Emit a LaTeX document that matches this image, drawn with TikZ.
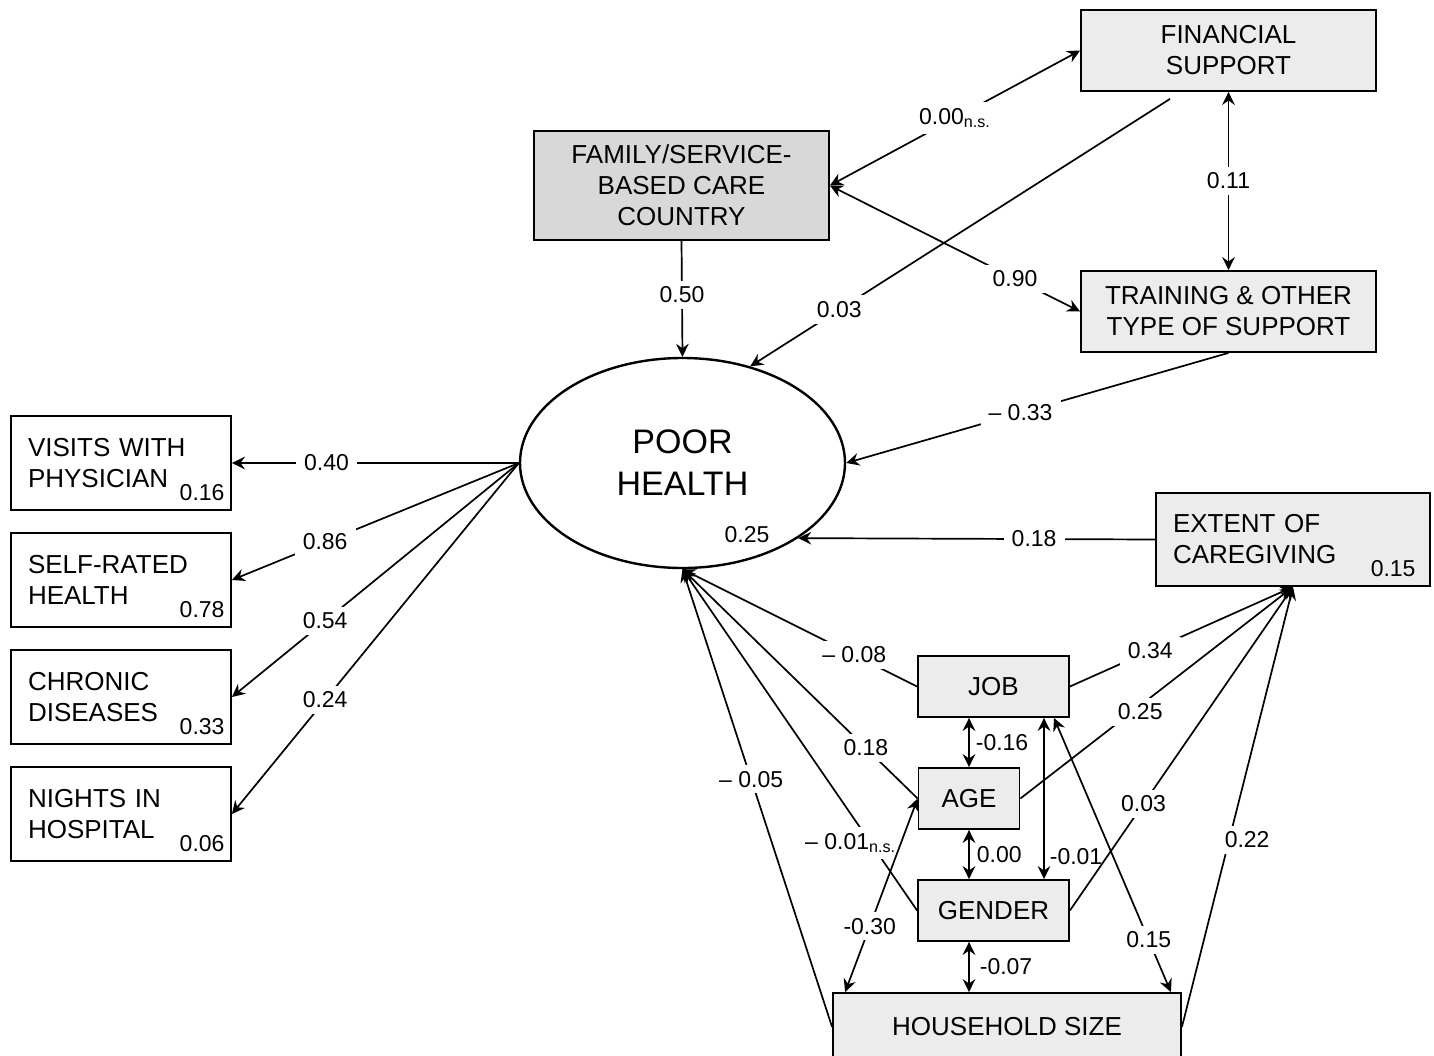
\documentclass[tikz,border=0pt]{standalone}
\usepackage{fontspec}
\setmainfont{Liberation Sans}
\usetikzlibrary{arrows.meta,shapes.geometric,calc}
\definecolor{lightbox}{HTML}{ECECEC}
\definecolor{darkbox}{HTML}{D8D8D8}
\begin{document}
\begin{tikzpicture}[x=0.5pt,y=-0.5pt,
  >={Stealth[length=6.5pt,width=6.3pt,inset=2.2pt]},
  box/.style={draw=black, line width=0.9pt, inner sep=0pt, align=center, font=\fontsize{13}{15.5}\selectfont},
  lbox/.style={draw=black, line width=0.9pt, inner xsep=8.5pt, inner ysep=0pt, align=left, font=\fontsize{13}{15.5}\selectfont, text width=93pt, minimum height=47pt},
  lab/.style={fill=white, inner xsep=4pt, inner ysep=3pt, font=\fontsize{11.5}{13}\selectfont},
  numlab/.style={inner sep=0pt, font=\fontsize{11.5}{13}\selectfont},
  arr/.style={line width=0.85pt, ->},
  darr/.style={line width=0.85pt, <->},
]
\useasboundingbox (0,0) rectangle (1434,1055);

% nodes
\node[box, fill=lightbox, minimum width=147.5pt, minimum height=40.5pt] (FIN) at (1228.5,50.5) {FINANCIAL\\SUPPORT};
\node[box, fill=darkbox, minimum width=147.5pt, minimum height=54.5pt] (FAM) at (681.5,185.5) {FAMILY/SERVICE-\\BASED CARE\\COUNTRY};
\node[box, fill=lightbox, minimum width=147.5pt, minimum height=40.5pt] (TRN) at (1228.5,311.5) {TRAINING \& OTHER\\TYPE OF SUPPORT};
\node[draw, ellipse, line width=1.2pt, minimum width=162.5pt, minimum height=105pt, inner sep=0pt, align=center, font=\fontsize{17}{21}\selectfont] (PH) at (682.5,463) {POOR\\HEALTH};
\node[numlab] (PHr) at ([xshift=32.25pt,yshift=-36pt]PH.center) {0.25};

\node[lbox, fill=lightbox, text width=120pt, minimum height=46.5pt] (EXT) at (1293,539.5) {EXTENT OF\\CAREGIVING};
\node[numlab, anchor=base east] (EXTr) at ([xshift=-7.5pt,yshift=5pt]EXT.south east) {0.15};

\node[box, fill=lightbox, minimum width=75.5pt, minimum height=30.5pt] (JOB) at (993.5,686.5) {JOB};
\node[box, fill=lightbox, minimum width=50.5pt, minimum height=30.5pt] (AGE) at (969,798.5) {AGE};
\node[box, fill=lightbox, minimum width=75.5pt, minimum height=30.5pt] (GEN) at (993.5,910.5) {GENDER};
\node[box, fill=lightbox, minimum width=174pt, minimum height=34pt] (HH) at (1007,1027) {HOUSEHOLD SIZE};

\node[lbox, fill=white] (VIS) at (121,463) {VISITS WITH\\PHYSICIAN};
\node[lbox, fill=white] (SRH) at (121,580) {SELF-RATED\\HEALTH};
\node[lbox, fill=white] (CHR) at (121,697) {CHRONIC\\DISEASES};
\node[lbox, fill=white] (NIG) at (121,814) {NIGHTS IN\\HOSPITAL};
\node[numlab, anchor=base east] (VISr) at ([xshift=-3.5pt,yshift=5pt]VIS.south east) {0.16};
\node[numlab, anchor=base east] (SRHr) at ([xshift=-3.5pt,yshift=5pt]SRH.south east) {0.78};
\node[numlab, anchor=base east] (CHRr) at ([xshift=-3.5pt,yshift=5pt]CHR.south east) {0.33};
\node[numlab, anchor=base east] (NIGr) at ([xshift=-3.5pt,yshift=5pt]NIG.south east) {0.06};

% top connectors
\draw[darr] (FAM.east) -- node[lab, pos=0.5] (l1) {0.00\textsubscript{n.s.}} (FIN.west);
\draw[darr] (FAM.east) -- node[lab, pos=0.74] (l2) {0.90} (TRN.west);
\draw[darr] (FIN.south) -- node[lab] (l3) {0.11} (TRN.north);
\draw[arr] (FAM.south) -- node[lab, pos=0.466] (l4) {0.50} (PH.north);
\draw[arr] ([xshift=-29.25pt,yshift=-3.5pt]FIN.south) -- node[lab, pos=0.788] (l5) {0.03} (PH.55);
\draw[arr] (TRN.south) -- node[lab, pos=0.544] (l6) {\textendash\ 0.33} (PH.east);
\draw[arr] (EXT.west) -- node[lab, pos=0.339] (l7) {0.18} (PH.-33.5);

% indicators
\draw[arr] (PH.west) -- node[lab, pos=0.67] (l8) {0.40} (VIS.east);
\draw[arr] (PH.west) -- node[lab, pos=0.675] (l9) {0.86} (SRH.east);
\draw[arr] (PH.west) -- node[lab, pos=0.675] (l10) {0.54} (CHR.east);
\draw[arr] (PH.west) -- node[lab, pos=0.675] (l11) {0.24} (NIG.east);

% covariates to poor health
\draw[arr] (JOB.west) -- node[lab, pos=0.268] (l12) {\textendash\ 0.08} (PH.south);
\draw[arr] (AGE.west) -- node[lab, pos=0.22] (l13) {0.18} (PH.south);
\draw[arr] (GEN.west) -- node[lab, pos=0.198, xshift=-10pt] (l14) {\textendash\ 0.01\textsubscript{n.s.}} (PH.south);
\draw[arr] (HH.west) -- node[lab, pos=0.541] (l15) {\textendash\ 0.05} (PH.south);

% covariates to extent of caregiving
\draw[arr] (JOB.east) -- node[lab, pos=0.36] (l16) {0.34} (EXT.south);
\draw[arr] (AGE.east) -- node[lab, pos=0.41, xshift=4pt] (l17) {0.25} (EXT.south);
\draw[arr] (GEN.east) -- node[lab, pos=0.33] (l18) {0.03} (EXT.south);
\draw[arr] (HH.east) -- node[lab, pos=0.425, xshift=9pt] (l19) {0.22} (EXT.south);

% covariances among covariates
\draw[darr] (AGE.north) -- node[numlab, right=3pt] (l20) {-0.16} (AGE.north |- JOB.south);
\draw[darr] (AGE.south) -- node[numlab, right=3.5pt] (l21) {0.00} (AGE.south |- GEN.north);
\draw[darr] ([xshift=25.25pt]JOB.south) -- node[numlab, right=2.5pt, pos=0.86] (l22) {-0.01} ([xshift=25.25pt]JOB.south |- GEN.north);
\draw[darr] (AGE.south |- GEN.south) -- node[numlab, right=5pt] (l23) {-0.07} (AGE.south |- HH.north);
\draw[darr] ([xshift=6.5pt]HH.north west) -- node[lab, pos=0.34] (l24) {-0.30} (AGE.west);
\draw[darr] ([xshift=-5.5pt]HH.north east) -- node[lab, pos=0.19] (l25) {0.15} ([xshift=30.25pt]JOB.south);
\end{tikzpicture}
\end{document}
